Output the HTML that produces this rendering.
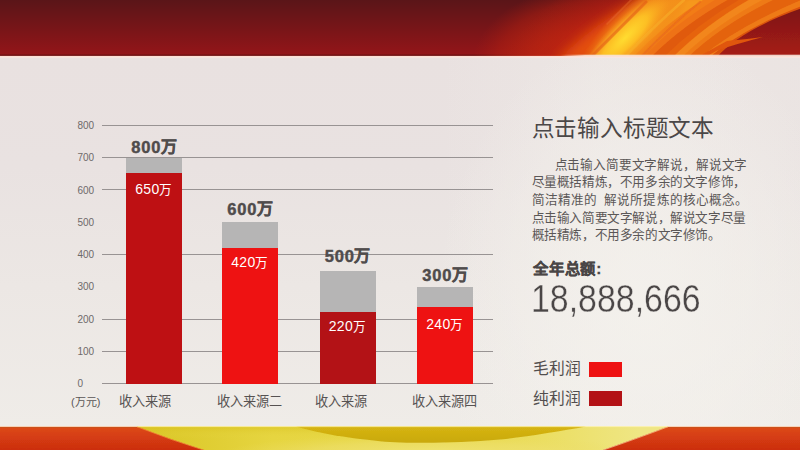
<!DOCTYPE html>
<html lang="zh-CN">
<head>
<meta charset="utf-8">
<title>收入来源图表</title>
<style>
  html, body { margin: 0; padding: 0; }
  body {
    width: 800px; height: 450px; overflow: hidden; position: relative;
    font-family: "Liberation Sans", sans-serif;
    background: #ebe5e3;
  }
  .abs { position: absolute; }
  #panel {
    left: 0; top: 56px; width: 800px; height: 371px;
    background:
      radial-gradient(ellipse 210px 280px at 645px 250px, rgba(245,243,238,0.75) 0%, rgba(245,243,238,0.45) 50%, rgba(245,243,238,0) 100%),
      linear-gradient(90deg, rgba(240,236,232,0) 55%, rgba(240,236,232,0.45) 75%, rgba(240,236,232,0.25) 100%),
      linear-gradient(180deg, #e9e1e0 0%, #e9e2e1 30%, #ece7e4 62%, #efece8 100%);
  }
  #banner { left: 0; top: 0; width: 800px; height: 60px; }
  #footer { left: 0; top: 424px; width: 800px; height: 26px; }

  /* chart */
  .grid { left: 102.3px; width: 390.5px; height: 1px; background: #989393; }
  .ylab { left: 77.5px; width: 30px; font-size: 10px; line-height: 12px; color: #6e6a6a; }
  .bar { width: 56px; }
  .gray { background: #b6b5b5; }
  .r-dark { background: #be1013; }
  .r-bright { background: #ee1212; }
  .r-deep { background: #b31216; }
  .tot {
    width: 80px; text-align: center; font-weight: bold; font-size: 16.5px; line-height: 20px;
    color: #504c4c; white-space: nowrap; letter-spacing: 0.9px; margin-top: 1.2px;
    -webkit-text-stroke: 0.45px #504c4c;
  }
  .tot span { letter-spacing: 0; font-size: 16px; margin-left: -0.5px; position: relative; top: -1px; }
  .val span { font-weight: normal; font-size: 12.6px; }
  .val {
    width: 80px; text-align: center; font-size: 14px; line-height: 16px;
    color: #fff; white-space: nowrap; letter-spacing: 0.3px;
  }
  .xlab { font-size: 13.2px; line-height: 16px; color: #565252; white-space: nowrap; }

  /* right text */
  #title { left: 531.5px; top: 113.8px; font-size: 22.6px; letter-spacing: -0.2px; line-height: 30px; color: #4b4747; white-space: nowrap; }
  #para  { left: 531.5px; top: 156.9px; font-size: 12.6px; line-height: 17.55px; color: #5b5757; white-space: nowrap; letter-spacing: -0.4px; }
  #sumlab { left: 533px; top: 259px; letter-spacing: 0.8px; font-size: 15.3px; line-height: 20px; font-weight: bold; color: #4a4646; white-space: nowrap; -webkit-text-stroke: 0.3px #4a4646; }
  #sum { left: 531.2px; top: 277.6px; font-size: 38px; line-height: 42px; color: #4a4646; white-space: nowrap;
         transform: scaleX(0.892); transform-origin: 0 0; -webkit-text-stroke: 0.35px #f2efeb; }
  .leg { left: 533px; font-size: 15.8px; line-height: 20px; color: #524e4e; white-space: nowrap; }
  .sw { left: 589px; width: 33px; height: 15px; }
</style>
</head>
<body>

<div id="panel" class="abs"></div>

<!-- top banner -->
<svg id="banner" class="abs" viewBox="0 0 800 60" preserveAspectRatio="none">
  <defs>
    <linearGradient id="bg" x1="0" y1="0" x2="0" y2="1">
      <stop offset="0" stop-color="#5a1518"/>
      <stop offset="0.55" stop-color="#7a1518"/>
      <stop offset="1" stop-color="#951519"/>
    </linearGradient>
    <radialGradient id="glow" gradientUnits="userSpaceOnUse" cx="0" cy="0" r="1"
        gradientTransform="translate(650 80) rotate(-32) scale(200 122)">
      <stop offset="0" stop-color="#e8440e" stop-opacity="1"/>
      <stop offset="0.45" stop-color="#d02c10" stop-opacity="0.95"/>
      <stop offset="0.75" stop-color="#b01c12" stop-opacity="0.55"/>
      <stop offset="1" stop-color="#a01812" stop-opacity="0"/>
    </radialGradient>
    <radialGradient id="glowA" gradientUnits="userSpaceOnUse" cx="0" cy="0" r="1"
        gradientTransform="translate(590 66) scale(118 80)">
      <stop offset="0" stop-color="#d23810" stop-opacity="1"/>
      <stop offset="0.45" stop-color="#c62c10" stop-opacity="0.85"/>
      <stop offset="0.8" stop-color="#b42010" stop-opacity="0.45"/>
      <stop offset="1" stop-color="#a81c10" stop-opacity="0"/>
    </radialGradient>
    <radialGradient id="halo" gradientUnits="userSpaceOnUse" cx="0" cy="0" r="1"
        gradientTransform="translate(634 32) rotate(-45) scale(80 27)">
      <stop offset="0" stop-color="#f9ac20" stop-opacity="1"/>
      <stop offset="0.55" stop-color="#f4921b" stop-opacity="0.85"/>
      <stop offset="1" stop-color="#ee7c16" stop-opacity="0"/>
    </radialGradient>
    <radialGradient id="core" gradientUnits="userSpaceOnUse" cx="0" cy="0" r="1"
        gradientTransform="translate(625 38) rotate(-45) scale(60 18)">
      <stop offset="0" stop-color="#ffdc30" stop-opacity="1"/>
      <stop offset="0.5" stop-color="#fdc024" stop-opacity="0.95"/>
      <stop offset="1" stop-color="#f89a1c" stop-opacity="0"/>
    </radialGradient>
    <linearGradient id="edge" x1="0" y1="0" x2="0" y2="1">
      <stop offset="0" stop-color="#5a0e0e" stop-opacity="0"/>
      <stop offset="0.6" stop-color="#5a0e0e" stop-opacity="0.55"/>
      <stop offset="1" stop-color="#5a0e0e" stop-opacity="0.75"/>
    </linearGradient>
    <linearGradient id="hl" x1="0" y1="0" x2="0" y2="1">
      <stop offset="0" stop-color="#ffd9cc" stop-opacity="1"/>
      <stop offset="0.45" stop-color="#fde6de" stop-opacity="0.9"/>
      <stop offset="1" stop-color="#f6e8e4" stop-opacity="0"/>
    </linearGradient>
    <linearGradient id="hlx" x1="0" y1="0" x2="1" y2="0">
      <stop offset="0" stop-color="#f7e6da" stop-opacity="0"/>
      <stop offset="1" stop-color="#f7e6da" stop-opacity="0.9"/>
    </linearGradient>
    <linearGradient id="dk" x1="0" y1="0" x2="0" y2="1">
      <stop offset="0" stop-color="#7c1612"/>
      <stop offset="1" stop-color="#a81c16"/>
    </linearGradient>
    <filter id="b1" x="-5%" y="-20%" width="110%" height="140%"><feGaussianBlur stdDeviation="0.7"/></filter>
    <filter id="b3" x="-10%" y="-40%" width="120%" height="180%"><feGaussianBlur stdDeviation="2.5"/></filter>
    <filter id="b5" x="-10%" y="-40%" width="120%" height="180%"><feGaussianBlur stdDeviation="6"/></filter>
    <clipPath id="bclip"><rect x="0" y="0" width="800" height="56"/></clipPath>
  </defs>
  <rect x="0" y="0" width="800" height="56" fill="url(#bg)"/>
  <rect x="0" y="53.6" width="800" height="2.4" fill="url(#edge)"/>
  <g clip-path="url(#bclip)">
    <rect x="420" y="0" width="380" height="56" fill="url(#glowA)"/>
    <rect x="420" y="0" width="380" height="56" fill="url(#glow)"/>
    <!-- flame stripes (fan of arcs from lower-left to upper-right) -->
    <path d="M556 62 Q598 20 650 -6 L810 -6 L810 62 Z" fill="#e4500f" filter="url(#b5)"/>
    <path d="M590 60 Q626 22 672 -4 L810 -4 L810 60 Z" fill="#f6981c" filter="url(#b3)"/>
    <g filter="url(#b1)">
      <path d="M632 58 Q664 24 706 -2 L810 -2 L810 58 Z" fill="#f27c17"/>
      <path d="M642 58 Q674 24 718 -2 L810 -2 L810 58 Z" fill="#ee7214"/>
      <path d="M650 58 Q684 24 731 -2 L810 -2 L810 58 Z" fill="#e05a10"/>
      <path d="M663 58 Q697 24 742 -2 L810 -2 L810 58 Z" fill="#e6640f"/>
      <path d="M672 58 Q706 24 752 -2 L810 -2 L810 58 Z" fill="#f2861b"/>
      <path d="M681 58 Q716 24 766 -2 L810 -2 L810 58 Z" fill="#ee7a16"/>
      <path d="M687 58 Q722 24 777 -2 L810 -2 L810 58 Z" fill="#e4640f"/>
      <path d="M700 58 Q738 26 806 -2 L810 -2 L810 58 Z" fill="#ee7a17"/>
      <path d="M709 58 Q742 28 810 3 L810 58 Z" fill="#da520f"/>
    </g>
    <rect x="540" y="0" width="200" height="56" fill="url(#halo)"/>
    <rect x="540" y="0" width="180" height="56" fill="url(#core)"/>
    <g filter="url(#b1)" fill="none" stroke-linecap="round">
      <path d="M588 60 L646 2" stroke="#e2551a" stroke-width="3" opacity="0.55"/>
      <path d="M607 24 L634 -3" stroke="#f07a3a" stroke-width="1.6" opacity="0.3"/>
      <path d="M640 58 Q668 28 700 2" stroke="#e8681a" stroke-width="2.2" opacity="0.6"/>
      <path d="M624 58 Q652 28 684 0" stroke="#f7b02a" stroke-width="2.5" opacity="0.55"/>
    </g>
    <!-- dark corner -->
    <g filter="url(#b1)">
      <path d="M716 58 Q742 28 810 5.5 L810 58 L700 58 Z" fill="url(#dk)"/>
      <path d="M696 58 Q712 49 727 41 Q745 39.5 763 37 Q738 43.5 717 50.5 Q710 54 705 58 Z" fill="#e0560f"/>
    </g>
  </g>
  <rect x="0" y="55.9" width="800" height="2.8" fill="url(#hl)"/>
  <rect x="585" y="54.7" width="215" height="1.4" fill="#f7e6da" opacity="0.9"/>
  <rect x="560" y="54.7" width="25" height="1.4" fill="url(#hlx)"/>
</svg>

<!-- bottom ribbon -->
<svg id="footer" class="abs" viewBox="0 424 800 26" preserveAspectRatio="none">
  <defs>
    <linearGradient id="fy" x1="0" y1="0" x2="1" y2="0">
      <stop offset="0.17" stop-color="#d9c524"/>
      <stop offset="0.34" stop-color="#e6d540"/>
      <stop offset="0.62" stop-color="#e9da50"/>
      <stop offset="0.80" stop-color="#efe684"/>
    </linearGradient>
    <linearGradient id="fyv" x1="0" y1="0" x2="0" y2="1">
      <stop offset="0" stop-color="#d8c01c" stop-opacity="0.55"/>
      <stop offset="0.5" stop-color="#e8d848" stop-opacity="0"/>
    </linearGradient>
    <radialGradient id="fyc" gradientUnits="userSpaceOnUse" cx="0" cy="0" r="1"
        gradientTransform="translate(430 454) scale(210 20)">
      <stop offset="0" stop-color="#f1e67c" stop-opacity="0.85"/>
      <stop offset="0.6" stop-color="#eee070" stop-opacity="0.55"/>
      <stop offset="1" stop-color="#ebdc60" stop-opacity="0"/>
    </radialGradient>
    <linearGradient id="fm" x1="0" y1="0" x2="0" y2="1">
      <stop offset="0" stop-color="#d6b412"/>
      <stop offset="1" stop-color="#c9a90f"/>
    </linearGradient>
    <linearGradient id="fr" x1="0" y1="0" x2="0" y2="1">
      <stop offset="0" stop-color="#dd4a14"/>
      <stop offset="1" stop-color="#cb2c10"/>
    </linearGradient>
    <filter id="fb" x="-2%" y="-20%" width="104%" height="140%"><feGaussianBlur stdDeviation="0.5"/></filter>
  </defs>
  <rect x="0" y="426.6" width="800" height="24" fill="url(#fy)"/>
  <rect x="130" y="426.6" width="200" height="24" fill="url(#fyv)"/>
  <rect x="200" y="426.6" width="460" height="24" fill="url(#fyc)"/>
  <g filter="url(#fb)">
    <!-- mustard lens -->
    <path d="M296 426.6 C320 433.4 345 438 380 441.2 C410 443.8 455 443.4 500 439.6 C530 436.4 560 431.2 586 426.6 Z" fill="url(#fm)"/>
    <!-- left red -->
    <path d="M-2 426.6 L137 426.6 Q170 439.5 207 451 L-2 451 Z" fill="url(#fr)"/>
    <path d="M137 426.8 Q170 439.7 207 451.2" fill="none" stroke="#f08a38" stroke-width="0.9" opacity="0.85"/>
    <!-- right red -->
    <path d="M668 426.6 L802 426.6 L802 451 L600 451 Q638 438 668 426.6 Z" fill="url(#fr)"/>
    <path d="M668 426.8 Q638 438.2 600 451.2" fill="none" stroke="#f6c090" stroke-width="0.9" opacity="0.8"/>
  </g>
  <rect x="137" y="426.2" width="531" height="0.9" fill="#fff2a8" opacity="0.8"/>
  <rect x="0" y="426.1" width="137" height="0.9" fill="#fbe3d2" opacity="0.85"/>
  <rect x="668" y="426.1" width="132" height="0.9" fill="#fbe3d2" opacity="0.85"/>
  <rect x="0" y="427" width="137" height="0.9" fill="#b85a20" opacity="0.5"/>
  <rect x="668" y="427" width="132" height="0.9" fill="#b85a20" opacity="0.5"/>
</svg>

<!-- gridlines -->
<div class="abs grid" style="top:124.5px"></div>
<div class="abs grid" style="top:156.8px"></div>
<div class="abs grid" style="top:189.1px"></div>
<div class="abs grid" style="top:253.7px"></div>
<div class="abs grid" style="top:318.7px"></div>
<div class="abs grid" style="top:350.6px"></div>
<div class="abs grid" style="top:382.9px"></div>

<!-- y axis labels -->
<div class="abs ylab" style="top:119.9px">800</div>
<div class="abs ylab" style="top:152.2px">700</div>
<div class="abs ylab" style="top:184.5px">600</div>
<div class="abs ylab" style="top:216.8px">500</div>
<div class="abs ylab" style="top:249.1px">400</div>
<div class="abs ylab" style="top:281.4px">300</div>
<div class="abs ylab" style="top:313.7px">200</div>
<div class="abs ylab" style="top:346.0px">100</div>
<div class="abs ylab" style="top:378.3px">0</div>
<div class="abs" style="left:71px; top:395px; font-size:11px; line-height:14px; color:#5a5656; white-space:nowrap;">(万元)</div>

<!-- bars -->
<div class="abs bar gray"     style="left:126px; top:157.5px; height:226px"></div>
<div class="abs bar r-dark"   style="left:126px; top:172.5px; height:211px"></div>
<div class="abs bar gray"     style="left:222px; top:222.4px;   height:161.1px"></div>
<div class="abs bar r-bright" style="left:222px; top:248px; height:135.5px"></div>
<div class="abs bar gray"     style="left:319.5px; top:270.5px; height:113px"></div>
<div class="abs bar r-deep"   style="left:319.5px; top:312px; height:71.5px"></div>
<div class="abs bar gray"     style="left:417px; top:287px; height:96.5px"></div>
<div class="abs bar r-bright" style="left:417px; top:306.5px; height:77px"></div>

<!-- bar labels -->
<div class="abs tot" style="left:114px; top:136px">800<span>万</span></div>
<div class="abs tot" style="left:210px; top:197.5px">600<span>万</span></div>
<div class="abs tot" style="left:307.5px; top:244.5px">500<span>万</span></div>
<div class="abs tot" style="left:405px; top:263.5px">300<span>万</span></div>

<div class="abs val" style="left:114px; top:180.5px">650<span>万</span></div>
<div class="abs val" style="left:210px; top:253.5px">420<span>万</span></div>
<div class="abs val" style="left:307.5px; top:317.8px">220<span>万</span></div>
<div class="abs val" style="left:405px; top:315.5px">240<span>万</span></div>

<!-- x axis labels -->
<div class="abs xlab" style="left:118.5px; top:394px">收入来源</div>
<div class="abs xlab" style="left:216.5px; top:394px">收入来源二</div>
<div class="abs xlab" style="left:315px; top:394px">收入来源</div>
<div class="abs xlab" style="left:411.5px; top:394px">收入来源四</div>

<!-- right column -->
<div id="title" class="abs">点击输入标题文本</div>
<div id="para" class="abs"><span style="letter-spacing:-0.15px; padding-left:23px">点击输入简要文字解说，解说文字</span><br>尽量概括精炼，不用多余的文字修饰，<br><span style="letter-spacing:0.05px">简洁精准的<span style="padding-left:4px"> </span>解说所提炼的核心概念。</span><br>点击输入简要文字解说，解说文字尽量<br>概括精炼，不用多余的文字修饰。</div>
<div id="sumlab" class="abs">全年总额:</div>
<div id="sum" class="abs">18,888,666</div>

<div class="abs leg" style="top:359px">毛利润</div>
<div class="abs sw r-bright" style="top:362px"></div>
<div class="abs leg" style="top:388.5px">纯利润</div>
<div class="abs sw r-deep" style="top:391px"></div>

</body>
</html>
